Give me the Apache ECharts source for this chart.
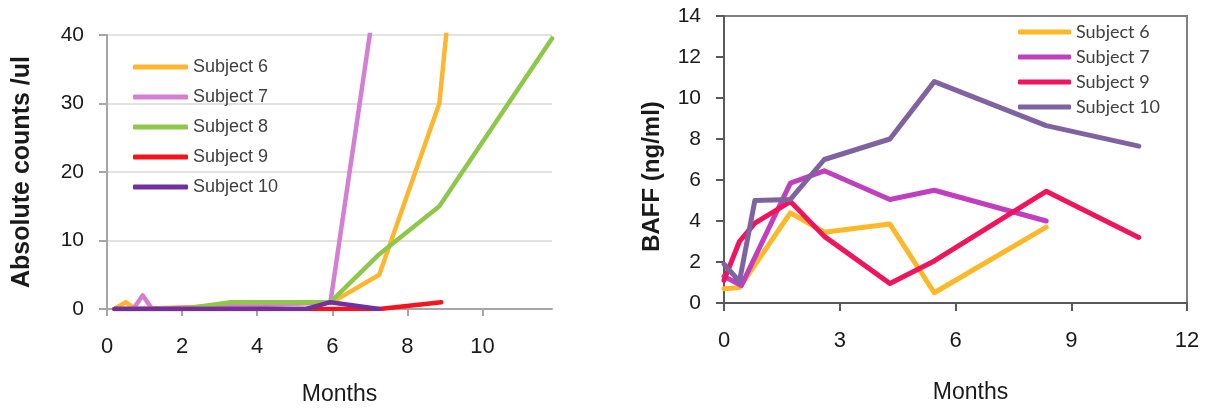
<!DOCTYPE html>
<html>
<head>
<meta charset="utf-8">
<script src="https://cdn.jsdelivr.net/npm/echarts@6/dist/echarts.min.js"></script>
<style>
html,body{margin:0;padding:0;background:#fff;}
#chart{width:1209px;height:411px;}
</style>
</head>
<body>
<div id="chart"></div>
<script>
// ---------- Left chart: Absolute counts /ul ----------
const leftNames = ['Subject 6', 'Subject 7', 'Subject 8', 'Subject 9', 'Subject 10'];
const leftColors = ['#FDB62F', '#D47FD3', '#8DC84B', '#F5141E', '#7030A0'];
const s6Months  = [0.2, 0.5, 0.75, 6.0, 7.25, 8.85, 9.05];
const s6Counts  = [0, 1, 0, 1, 5, 30, 41];
const s7Months  = [0.2, 0.7, 0.95, 1.2, 5.95, 7.05];
const s7Counts  = [0, 0, 2, 0, 1, 42];
const s8Months  = [0.2, 2.0, 3.3, 5.95, 7.25, 8.85, 11.85];
const s8Counts  = [0, 0, 1, 1, 8, 15, 39.5];
const s9Months  = [0.2, 5.5, 7.25, 8.9];
const s9Counts  = [0, 0, 0, 1];
const s10Months = [0.2, 5.3, 5.95, 7.25];
const s10Counts = [0, 0, 1, 0];
const leftXTicks = [0, 2, 4, 6, 8, 10];
const leftYTicks = [0, 10, 20, 30, 40];

// ---------- Right chart: BAFF (ng/ml) ----------
const rightNames = ['Subject 6', 'Subject 7', 'Subject 9', 'Subject 10'];
const rightColors = ['#FDB827', '#C03FBE', '#F0145C', '#7F62A0'];
const b6Months  = [0, 0.4, 1.72, 2.6, 4.3, 5.45, 8.35];
const b6Baff    = [0.7, 0.75, 4.4, 3.45, 3.85, 0.5, 3.7];
const b7Months  = [0, 0.45, 1.72, 2.6, 4.3, 5.45, 8.35];
const b7Baff    = [1.3, 0.85, 5.85, 6.45, 5.05, 5.5, 4.0];
const b9Months  = [0, 0.4, 0.8, 1.72, 2.6, 4.3, 5.45, 8.35, 10.75];
const b9Baff    = [1.1, 3.0, 3.9, 4.95, 3.25, 0.95, 2.05, 5.45, 3.2];
const b10Months = [0, 0.4, 0.8, 1.72, 2.6, 4.3, 5.45, 8.35, 10.75];
const b10Baff   = [1.9, 1.05, 5.0, 5.05, 7.0, 8.0, 10.8, 8.65, 7.65];
const rightXTicks = [0, 3, 6, 9, 12];
const rightYTicks = [0, 2, 4, 6, 8, 10, 12, 14];

const zip = (xs, ys) => xs.map((x, i) => [x, ys[i]]);
const leftData = [zip(s6Months, s6Counts), zip(s7Months, s7Counts), zip(s8Months, s8Counts), zip(s9Months, s9Counts), zip(s10Months, s10Counts)];
const rightData = [zip(b6Months, b6Baff), zip(b7Months, b7Baff), zip(b9Months, b9Baff), zip(b10Months, b10Baff)];

const AR = '"Liberation Sans", Arial, sans-serif';

const series = [];
leftData.forEach((d, i) => series.push({
  name: leftNames[i], type: 'line', xAxisIndex: 0, yAxisIndex: 0, data: d,
  showSymbol: false, symbol: 'none', clip: true,
  lineStyle: { color: leftColors[i], width: 4.5, cap: 'round', join: 'round' },
  itemStyle: { color: leftColors[i] }, z: 2 + i
}));
rightData.forEach((d, i) => series.push({
  name: 'R' + rightNames[i], type: 'line', xAxisIndex: 1, yAxisIndex: 1, data: d,
  showSymbol: false, symbol: 'none', clip: true,
  lineStyle: { color: rightColors[i], width: 5, cap: 'round', join: 'round' },
  itemStyle: { color: rightColors[i] }, z: 2 + i
}));

const chart = echarts.init(document.getElementById('chart'), null, { renderer: 'canvas' });
chart.setOption({
  animation: false,
  backgroundColor: '#ffffff',
  grid: [
    { left: 107, top: 35, width: 445, height: 276, containLabel: false },
    { left: 724, top: 16, width: 463, height: 287, containLabel: false, show: true, borderColor: '#808080', borderWidth: 2, backgroundColor: 'transparent' }
  ],
  legend: [
    {
      data: leftNames, orient: 'vertical', left: 133, top: 57, padding: 0,
      itemWidth: 55, itemHeight: 5, itemGap: 10, icon: 'roundRect',
      textStyle: { fontFamily: AR, fontSize: 18, color: '#404040', lineHeight: 20 },
      selectedMode: false
    },
    {
      data: rightNames.map(n => 'R' + n), orient: 'vertical', left: 1018, top: 22, padding: 0,
      itemWidth: 53, itemHeight: 5, itemGap: 5, icon: 'roundRect',
      formatter: n => n.slice(1),
      textStyle: { fontFamily: 'Lato, "Open Sans", sans-serif', fontSize: 18, color: '#404040', lineHeight: 20 },
      selectedMode: false
    }
  ],
  xAxis: [
    {
      type: 'value', gridIndex: 0, min: 0, max: 11.85, interval: 2,
      name: 'Months', nameLocation: 'middle', nameGap: 74,
      nameTextStyle: { fontFamily: AR, fontSize: 23, color: '#1a1a1a', padding: [0, 0, 0, 20] },
      axisLine: { show: true, lineStyle: { color: '#A6A6A6', width: 2 } },
      axisTick: { show: true, length: 7, lineStyle: { color: '#A6A6A6', width: 2 } },
      splitLine: { show: false },
      axisLabel: { margin: 27, fontFamily: AR, fontSize: 22, color: '#1a1a1a', showMaxLabel: false,
        formatter: v => leftXTicks.includes(v) ? String(v) : '' }
    },
    {
      type: 'value', gridIndex: 1, min: 0, max: 12, interval: 3,
      name: 'Months', nameLocation: 'middle', nameGap: 78,
      nameTextStyle: { fontFamily: AR, fontSize: 23, color: '#1a1a1a', padding: [0, 0, 0, 30] },
      axisLine: { show: true, lineStyle: { color: '#595959', width: 2 } },
      axisTick: { show: true, length: 8, lineStyle: { color: '#595959', width: 2 } },
      splitLine: { show: false },
      axisLabel: { margin: 27, fontFamily: AR, fontSize: 22, color: '#1a1a1a',
        formatter: v => rightXTicks.includes(v) ? String(v) : '' }
    }
  ],
  yAxis: [
    {
      type: 'value', gridIndex: 0, min: 0, max: 40, interval: 10,
      name: 'Absolute counts /ul', nameLocation: 'middle', nameGap: 72,
      nameTextStyle: { fontFamily: AR, fontSize: 25, fontWeight: 'bold', color: '#1a1a1a' },
      axisLine: { show: true, lineStyle: { color: '#A6A6A6', width: 2 } },
      axisTick: { show: true, length: 8, lineStyle: { color: '#A6A6A6', width: 2 } },
      splitLine: { show: true, lineStyle: { color: '#D9D9D9', width: 1.5 } },
      axisLabel: { margin: 23, fontFamily: AR, fontSize: 21, color: '#1a1a1a',
        formatter: v => leftYTicks.includes(v) ? String(v) : '' }
    },
    {
      type: 'value', gridIndex: 1, min: 0, max: 14, interval: 2,
      name: 'BAFF (ng/ml)', nameLocation: 'middle', nameGap: 60,
      nameTextStyle: { fontFamily: AR, fontSize: 24, fontWeight: 'bold', color: '#1a1a1a', padding: [0, 34, 0, 0] },
      axisLine: { show: true, lineStyle: { color: '#595959', width: 2 } },
      axisTick: { show: true, length: 8, lineStyle: { color: '#595959', width: 2 } },
      splitLine: { show: false },
      axisLabel: { margin: 23, fontFamily: AR, fontSize: 21, color: '#1a1a1a',
        formatter: v => rightYTicks.includes(v) ? String(v) : '' }
    }
  ],
  series: series
});
</script>
</body>
</html>
